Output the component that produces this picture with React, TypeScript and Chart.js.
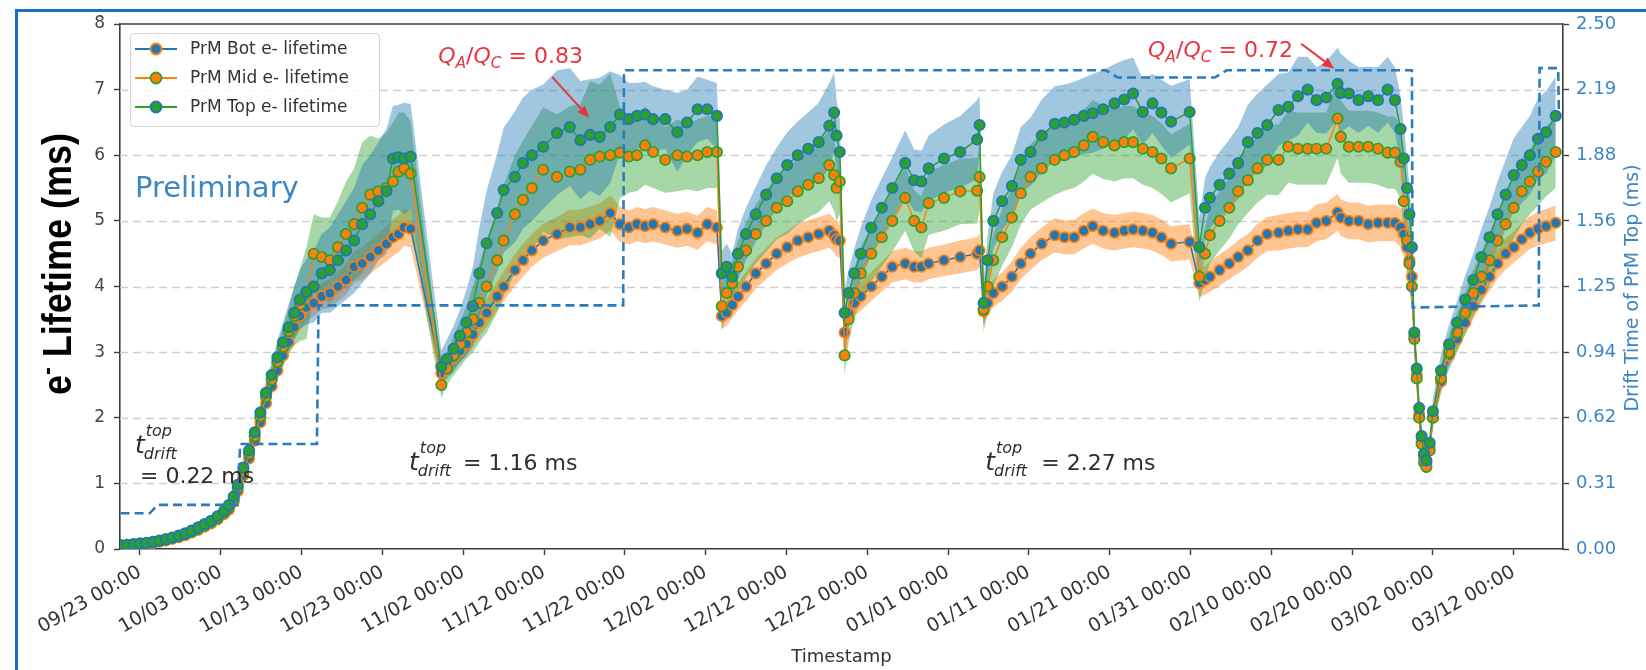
import React, { useEffect, useRef } from 'react';
import { Chart, registerables } from 'chart.js';

Chart.register(...registerables);

// ---- measurement times (days after 09/23 00:00) ----
const days = [
  -2.4, -1.6, -0.8, 0.0, 0.8, 1.6, 2.4, 3.2, 4.0, 4.8, 5.6, 6.4, 7.2, 8.0, 8.8, 9.6, 10.4, 11.0, 11.6, 12.1,
  12.8, 13.5, 14.2, 14.9, 15.6, 16.3, 17.0, 17.7,
  18.4, 19.1, 19.8, 20.6, 21.5, 22.5, 23.5, 24.5, 25.5, 26.5, 27.5, 28.5, 29.5, 30.5, 31.3, 32.0, 32.7, 33.5,
  37.3, 38.0, 38.8, 39.6, 40.4, 41.2, 42.0, 42.9, 44.2, 45.0, 46.4, 47.4, 48.5, 49.9, 51.6, 53.2, 54.5, 55.7,
  56.9, 58.2, 59.4, 60.5, 61.5, 62.5, 63.5, 65.0, 66.5, 67.7, 69.0, 70.2, 71.4,
  72.0, 72.6, 73.3, 74.0, 75.0, 76.2, 77.5, 78.8, 80.1, 81.4, 82.7, 84.0, 85.3, 85.9, 86.2, 86.6,
  87.2, 87.7, 88.4, 89.2, 90.5, 91.8, 93.1, 94.7, 95.8, 96.7, 97.6, 99.5, 101.5, 103.6, 103.9,
  104.4, 104.9, 105.6, 106.7, 107.9, 109.0, 110.2, 111.6, 113.2, 114.4, 115.6, 116.8, 117.9, 119.2, 120.6,
  121.8, 122.9, 124.1, 125.3, 126.4, 127.6, 129.9,
  131.1, 131.8, 132.4, 133.6, 134.8, 135.9, 137.1, 138.3, 139.5, 140.9, 142.1, 143.3, 144.5, 145.6, 146.8,
  148.2, 148.6, 149.6, 150.8, 152.0, 153.2, 154.4, 155.3,
  156.0, 156.4, 156.8, 157.1, 157.4, 157.7, 158.0, 158.3, 158.6, 158.9, 159.2, 159.6, 160.0, 161.0, 162.0,
  163.0, 164.0, 165.0, 166.0, 167.0, 168.0, 169.0, 170.0, 171.0, 172.0, 173.0, 174.0, 175.2,
];

// ---- electron lifetime (ms) ----
const botLifetime = [
  0.04, 0.045, 0.055, 0.065, 0.075, 0.09, 0.11, 0.13, 0.155, 0.18, 0.21, 0.25, 0.29, 0.34, 0.39, 0.45, 0.53, 0.60, 0.72, 0.88,
  1.12, 1.38, 1.65, 1.93, 2.22, 2.48, 2.72, 2.95,
  3.15, 3.38, 3.55, 3.68, 3.75, 3.85, 3.90, 4.00, 4.10, 4.30, 4.35, 4.45, 4.55, 4.65, 4.75, 4.80, 4.90, 4.88,
  2.68, 2.80, 2.92, 3.02, 3.12, 3.27, 3.45, 3.60, 3.85, 4.00, 4.25, 4.40, 4.55, 4.70, 4.80, 4.90, 4.90, 4.95,
  5.00, 5.12, 4.95, 4.90, 4.95, 4.92, 4.95, 4.90, 4.85, 4.88, 4.82, 4.95, 4.90,
  3.55, 3.60, 3.72, 3.85, 4.00, 4.20, 4.35, 4.50, 4.60, 4.70, 4.75, 4.80, 4.85, 4.78, 4.72, 4.70,
  3.30, 3.60, 3.75, 3.85, 4.00, 4.15, 4.30, 4.35, 4.30, 4.30, 4.35, 4.40, 4.45, 4.50, 4.55,
  3.62, 3.75, 3.90, 4.00, 4.15, 4.35, 4.50, 4.65, 4.78, 4.75, 4.75, 4.85, 4.92, 4.85, 4.82,
  4.85, 4.87, 4.85, 4.82, 4.75, 4.65, 4.68,
  4.05, 4.10, 4.15, 4.25, 4.35, 4.45, 4.55, 4.70, 4.80, 4.82, 4.85, 4.87, 4.87, 4.97, 5.00,
  5.13, 5.05, 5.00, 5.00, 4.95, 4.97, 4.97, 4.97,
  4.90, 4.80, 4.60, 4.40, 4.15, 3.25, 2.65, 2.05, 1.65, 1.40, 1.32, 1.55, 2.00, 2.55, 2.95,
  3.20, 3.45, 3.70, 3.95, 4.15, 4.35, 4.50, 4.60, 4.72, 4.82, 4.88, 4.92, 4.97,
];
const midLifetime = [
  0.05, 0.055, 0.065, 0.075, 0.085, 0.10, 0.12, 0.14, 0.165, 0.195, 0.225, 0.265, 0.31, 0.36, 0.41, 0.47, 0.56, 0.64, 0.76, 0.93,
  1.18, 1.45, 1.72, 2.02, 2.32, 2.58, 2.85, 3.08,
  3.32, 3.55, 3.72, 3.90, 4.50, 4.45, 4.40, 4.60, 4.80, 4.95, 5.20, 5.40, 5.45, 5.50, 5.60, 5.75, 5.80, 5.72,
  2.50, 2.75, 2.95, 3.12, 3.30, 3.50, 3.75, 4.00, 4.40, 4.70, 5.10, 5.32, 5.50, 5.78, 5.67, 5.75, 5.78, 5.93,
  5.98, 6.00, 6.04, 5.98, 6.00, 6.15, 6.05, 5.93, 6.00, 5.98, 6.00, 6.05, 6.05,
  3.70, 3.90, 4.05, 4.30, 4.55, 4.80, 5.00, 5.20, 5.30, 5.45, 5.55, 5.65, 5.85, 5.70, 5.50, 5.60,
  2.95, 3.50, 3.90, 4.20, 4.50, 4.75, 5.00, 5.35, 5.00, 4.90, 5.27, 5.35, 5.45, 5.46, 5.67,
  3.65, 4.00, 4.40, 4.75, 5.05, 5.42, 5.67, 5.80, 5.93, 6.00, 6.05, 6.15, 6.28, 6.20, 6.15,
  6.20, 6.20, 6.10, 6.05, 5.95, 5.80, 5.95,
  4.15, 4.50, 4.78, 5.00, 5.20, 5.45, 5.62, 5.80, 5.93, 5.93, 6.13, 6.10, 6.10, 6.10, 6.10,
  6.56, 6.28, 6.13, 6.13, 6.13, 6.10, 6.04, 6.04,
  5.90, 5.30, 4.70, 4.35, 4.00, 3.20, 2.60, 2.00, 1.60, 1.32, 1.25, 1.50, 2.00, 2.60, 3.00,
  3.30, 3.60, 3.90, 4.15, 4.40, 4.70, 4.95, 5.20, 5.45, 5.60, 5.75, 5.90, 6.05,
];
const topLifetime = [
  0.06, 0.065, 0.075, 0.085, 0.095, 0.11, 0.13, 0.15, 0.175, 0.205, 0.24, 0.28, 0.33, 0.38, 0.43, 0.50, 0.58, 0.67, 0.80, 0.98,
  1.24, 1.50, 1.78, 2.08, 2.38, 2.65, 2.92, 3.15,
  3.38, 3.60, 3.80, 3.92, 4.00, 4.20, 4.25, 4.40, 4.55, 4.70, 4.95, 5.10, 5.30, 5.45, 5.95, 5.97, 5.95, 5.98,
  2.78, 2.90, 3.05, 3.25, 3.45, 3.70, 4.20, 4.66, 5.12, 5.47, 5.67, 5.88, 6.00, 6.13, 6.34, 6.43, 6.23, 6.31,
  6.28, 6.43, 6.62, 6.55, 6.60, 6.62, 6.55, 6.55, 6.35, 6.50, 6.70, 6.70, 6.60,
  4.20, 4.30, 4.15, 4.50, 4.80, 5.10, 5.40, 5.65, 5.85, 6.00, 6.10, 6.20, 6.45, 6.65, 6.30, 6.05,
  3.60, 3.90, 4.20, 4.50, 4.90, 5.20, 5.50, 5.88, 5.62, 5.60, 5.80, 5.95, 6.05, 6.24, 6.46,
  3.75, 4.40, 5.00, 5.30, 5.53, 5.93, 6.05, 6.30, 6.48, 6.50, 6.54, 6.60, 6.64, 6.70, 6.79,
  6.85, 6.94, 6.66, 6.79, 6.65, 6.51, 6.66,
  4.60, 5.20, 5.35, 5.55, 5.72, 5.88, 6.20, 6.34, 6.46, 6.69, 6.74, 6.90, 7.00, 6.84, 6.88,
  7.09, 6.95, 6.94, 6.84, 6.90, 6.84, 7.00, 6.84,
  6.40, 5.95, 5.50, 5.10, 4.60, 3.30, 2.75, 2.15, 1.72, 1.45, 1.35, 1.62, 2.10, 2.72, 3.12,
  3.45, 3.80, 4.10, 4.45, 4.75, 5.10, 5.40, 5.70, 5.85, 6.00, 6.25, 6.35, 6.60,
];

// ---- lifetime uncertainties (ms) ----
const botErr = [
  0.02, 0.02, 0.02, 0.02, 0.02, 0.03, 0.03, 0.03, 0.03, 0.04, 0.04, 0.04, 0.04, 0.05, 0.05, 0.05, 0.06, 0.06, 0.07, 0.08,
  0.10, 0.10, 0.12, 0.12, 0.14, 0.15, 0.16, 0.17,
  0.18, 0.19, 0.20, 0.20, 0.20, 0.20, 0.22, 0.22, 0.23, 0.24, 0.25, 0.25, 0.26, 0.27, 0.28, 0.28, 0.28, 0.28,
  0.15, 0.16, 0.17, 0.18, 0.18, 0.19, 0.20, 0.21, 0.22, 0.23, 0.24, 0.25, 0.25, 0.26, 0.26, 0.27, 0.27, 0.27,
  0.27, 0.27, 0.27, 0.26, 0.26, 0.26, 0.26, 0.26, 0.26, 0.26, 0.26, 0.26, 0.26,
  0.20, 0.20, 0.20, 0.21, 0.22, 0.23, 0.24, 0.25, 0.25, 0.26, 0.26, 0.26, 0.26, 0.26, 0.26, 0.26,
  0.20, 0.20, 0.21, 0.22, 0.22, 0.23, 0.24, 0.24, 0.24, 0.24, 0.24, 0.24, 0.25, 0.25, 0.25,
  0.20, 0.20, 0.21, 0.22, 0.23, 0.24, 0.25, 0.25, 0.26, 0.26, 0.26, 0.27, 0.27, 0.27, 0.27,
  0.27, 0.27, 0.27, 0.27, 0.27, 0.27, 0.27,
  0.22, 0.22, 0.23, 0.24, 0.24, 0.25, 0.25, 0.26, 0.26, 0.27, 0.27, 0.27, 0.27, 0.28, 0.28,
  0.28, 0.28, 0.28, 0.28, 0.28, 0.28, 0.28, 0.28,
  0.30, 0.35, 0.40, 0.45, 0.40, 0.20, 0.16, 0.13, 0.10, 0.09, 0.08, 0.09, 0.12, 0.15, 0.17,
  0.18, 0.19, 0.20, 0.21, 0.22, 0.23, 0.24, 0.24, 0.25, 0.25, 0.26, 0.26, 0.27,
];
const midErr = [
  0.02, 0.02, 0.02, 0.02, 0.02, 0.03, 0.03, 0.03, 0.03, 0.04, 0.04, 0.04, 0.04, 0.05, 0.05, 0.05, 0.06, 0.06, 0.07, 0.08,
  0.10, 0.10, 0.12, 0.15, 0.18, 0.20, 0.25, 0.30,
  0.35, 0.45, 0.55, 0.70, 0.60, 0.60, 0.65, 0.70, 0.80, 0.85, 1.00, 0.90, 0.80, 0.85, 0.90, 0.90, 0.85, 0.80,
  0.20, 0.25, 0.30, 0.35, 0.40, 0.50, 0.60, 0.70, 0.80, 0.85, 0.90, 0.90, 0.95, 0.95, 0.95, 1.00, 1.00, 1.20,
  1.10, 1.25, 0.70, 0.55, 0.55, 0.60, 0.55, 0.50, 0.55, 0.50, 0.55, 0.55, 0.55,
  0.35, 0.35, 0.35, 0.40, 0.42, 0.45, 0.47, 0.48, 0.50, 0.50, 0.50, 0.52, 0.55, 0.55, 0.50, 0.50,
  0.30, 0.35, 0.38, 0.40, 0.42, 0.45, 0.47, 0.50, 0.47, 0.47, 0.48, 0.50, 0.50, 0.50, 0.50,
  0.35, 0.38, 0.40, 0.43, 0.45, 0.48, 0.50, 0.52, 0.53, 0.54, 0.55, 0.55, 0.56, 0.56, 0.55,
  0.55, 0.55, 0.55, 0.55, 0.54, 0.52, 0.53,
  0.38, 0.40, 0.43, 0.45, 0.47, 0.50, 0.50, 0.52, 0.53, 0.54, 0.55, 0.55, 0.55, 0.55, 0.55,
  0.60, 0.56, 0.55, 0.55, 0.55, 0.55, 0.55, 0.55,
  0.55, 0.50, 0.45, 0.40, 0.35, 0.28, 0.22, 0.18, 0.15, 0.12, 0.11, 0.13, 0.17, 0.22, 0.26,
  0.30, 0.32, 0.35, 0.37, 0.40, 0.42, 0.45, 0.47, 0.50, 0.50, 0.52, 0.53, 0.55,
];
const topErr = [
  0.02, 0.02, 0.02, 0.02, 0.02, 0.03, 0.03, 0.03, 0.03, 0.04, 0.04, 0.04, 0.04, 0.05, 0.05, 0.05, 0.06, 0.06, 0.07, 0.08,
  0.10, 0.10, 0.12, 0.15, 0.18, 0.20, 0.25, 0.30,
  0.35, 0.40, 0.45, 0.50, 0.55, 0.60, 0.65, 0.70, 0.75, 0.80, 0.90, 0.90, 0.90, 0.95, 0.80, 0.80, 0.85, 0.80,
  0.25, 0.30, 0.35, 0.40, 0.50, 0.60, 0.70, 0.80, 0.90, 0.95, 1.00, 1.00, 1.00, 0.95, 0.95, 0.90, 0.90, 0.85,
  0.90, 0.85, 0.60, 0.55, 0.50, 0.50, 0.50, 0.45, 0.60, 0.50, 0.50, 0.45, 0.50,
  0.35, 0.35, 0.35, 0.38, 0.40, 0.42, 0.45, 0.47, 0.50, 0.52, 0.55, 0.60, 0.65, 0.60, 0.55, 0.50,
  0.35, 0.35, 0.38, 0.40, 0.42, 0.45, 0.47, 0.50, 0.47, 0.47, 0.50, 0.52, 0.55, 0.60, 0.45,
  0.35, 0.38, 0.42, 0.45, 0.47, 0.50, 0.52, 0.55, 0.57, 0.58, 0.58, 0.58, 0.60, 0.60, 0.60,
  0.60, 0.55, 0.50, 0.45, 0.50, 0.55, 0.50,
  0.45, 0.45, 0.47, 0.50, 0.52, 0.55, 0.57, 0.60, 0.62, 0.55, 0.52, 0.60, 0.50, 0.50, 0.55,
  0.55, 0.60, 0.50, 0.50, 0.45, 0.50, 0.50, 0.50,
  0.50, 0.50, 0.45, 0.45, 0.40, 0.30, 0.25, 0.20, 0.16, 0.13, 0.12, 0.14, 0.19, 0.25, 0.30,
  0.33, 0.37, 0.40, 0.43, 0.46, 0.50, 0.53, 0.56, 0.58, 0.60, 0.62, 0.63, 0.60,
];

// ---- drift time of the top purity monitor (ms) ----
const driftDays = [-2.4, 1.2, 2.2, 12.1, 12.4, 21.9, 22.1, 59.8, 59.9, 119.5, 121.0, 133.0, 134.5, 157.4, 157.5, 173.1, 173.2, 175.5, 175.6];
const driftMs = [0.17, 0.17, 0.21, 0.21, 0.50, 0.50, 1.16, 1.16, 2.28, 2.28, 2.245, 2.245, 2.28, 2.28, 1.15, 1.16, 2.29, 2.29, 2.05];

// ---- axes ----
const X_MIN = -2.47;
const X_MAX = 176.1;
const xTickDays = [0, 10, 20, 30, 40, 50, 60, 70, 80, 90, 100, 110, 120, 130, 140, 150, 160, 170];
const xTickLabels = [
  '09/23 00:00', '10/03 00:00', '10/13 00:00', '10/23 00:00', '11/02 00:00', '11/12 00:00',
  '11/22 00:00', '12/02 00:00', '12/12 00:00', '12/22 00:00', '01/01 00:00', '01/11 00:00',
  '01/21 00:00', '01/31 00:00', '02/10 00:00', '02/20 00:00', '03/02 00:00', '03/12 00:00',
];
const lifetimeTicks = [0, 1, 2, 3, 4, 5, 6, 7, 8];
const driftTicks = [0, 0.3125, 0.625, 0.9375, 1.25, 1.5625, 1.875, 2.1875, 2.5];
const driftTickLabels = ['0.00', '0.31', '0.62', '0.94', '1.25', '1.56', '1.88', '2.19', '2.50'];

const seriesNames = ['PrM Bot e- lifetime', 'PrM Mid e- lifetime', 'PrM Top e- lifetime'];

const FONT = 'DejaVu Sans';
const BLUE = '#1f77b4';
const ORANGE = '#ff7f0e';
const GREEN = '#2ca02c';
const SPINE = '#3c3c3c';
const NOTE_RED = '#e8343f';
const NOTE_BLUE = '#3c86c4';
const W = 1646;
const H = 670;

const pts = (xs: number[], ys: number[]) => xs.map((x, i) => ({ x, y: ys[i] }));
const shifted = (vals: number[], errs: number[], sign: number) =>
  days.map((x, i) => ({ x, y: vals[i] + sign * errs[i] }));

const legendRows = [
  { label: seriesNames[0], line: BLUE, face: BLUE, edge: ORANGE },
  { label: seriesNames[1], line: ORANGE, face: ORANGE, edge: GREEN },
  { label: seriesNames[2], line: GREEN, face: GREEN, edge: BLUE },
];

type Piece = { t: string; font: string; dy?: number };

function drawPieces(ctx: CanvasRenderingContext2D, pieces: Piece[], x: number, y: number) {
  let cx = x;
  for (const p of pieces) {
    ctx.font = p.font;
    ctx.fillText(p.t, cx, y + (p.dy ?? 0));
    cx += ctx.measureText(p.t).width;
  }
  return cx - x;
}

function drawRatio(ctx: CanvasRenderingContext2D, x: number, y: number, value: string) {
  const it = `italic 22px "${FONT}"`;
  const sub = `italic 15.5px "${FONT}"`;
  drawPieces(ctx, [
    { t: 'Q', font: it },
    { t: 'A', font: sub, dy: 5 },
    { t: '/', font: `22px "${FONT}"` },
    { t: 'Q', font: it },
    { t: 'C', font: sub, dy: 5 },
    { t: ' = ' + value, font: `22px "${FONT}"` },
  ], x, y);
}

function drawDriftLabel(ctx: CanvasRenderingContext2D, x: number, y: number) {
  ctx.font = `italic 25px "${FONT}"`;
  ctx.fillText('t', x, y);
  const cx = x + ctx.measureText('t').width + 1;
  ctx.font = `italic 16px "${FONT}"`;
  ctx.fillText('top', cx, y - 17);
  ctx.fillText('drift', cx - 2, y + 6);
}

function drawArrow(ctx: CanvasRenderingContext2D, x1: number, y1: number, x2: number, y2: number) {
  const a = Math.atan2(y2 - y1, x2 - x1);
  const hl = 12;
  const hw = 5;
  const bx = x2 - hl * Math.cos(a);
  const by = y2 - hl * Math.sin(a);
  ctx.beginPath();
  ctx.moveTo(x1, y1);
  ctx.lineTo(bx, by);
  ctx.stroke();
  ctx.beginPath();
  ctx.moveTo(x2, y2);
  ctx.lineTo(bx + hw * Math.sin(a), by - hw * Math.cos(a));
  ctx.lineTo(bx - hw * Math.sin(a), by + hw * Math.cos(a));
  ctx.closePath();
  ctx.fill();
}

const decorations = {
  id: 'decorations',
  beforeDatasetsDraw(chart: any) {
    const { ctx, chartArea } = chart;
    const yL = chart.scales.yL;
    ctx.save();
    ctx.strokeStyle = '#cfcfcf';
    ctx.lineWidth = 1.4;
    ctx.setLineDash([8, 5]);
    for (const v of lifetimeTicks.slice(1, -1)) {
      const y = Math.round(yL.getPixelForValue(v)) + 0.5;
      ctx.beginPath();
      ctx.moveTo(chartArea.left, y);
      ctx.lineTo(chartArea.right, y);
      ctx.stroke();
    }
    ctx.restore();
  },
  afterDraw(chart: any) {
    const { ctx, chartArea } = chart;
    const xs = chart.scales.x;
    const yL = chart.scales.yL;
    const px = (d: number) => xs.getPixelForValue(d);
    const py = (v: number) => yL.getPixelForValue(v);
    ctx.save();

    // top spine
    ctx.strokeStyle = SPINE;
    ctx.lineWidth = 1.6;
    ctx.beginPath();
    ctx.moveTo(chartArea.left, chartArea.top);
    ctx.lineTo(chartArea.right, chartArea.top);
    ctx.stroke();

    // legend
    ctx.fillStyle = 'rgba(255,255,255,0.85)';
    ctx.strokeStyle = '#d6d6d6';
    ctx.lineWidth = 1.2;
    ctx.beginPath();
    ctx.roundRect(130.5, 33.5, 249, 93, 4);
    ctx.fill();
    ctx.stroke();
    legendRows.forEach((row, i) => {
      const y = 49 + i * 29;
      ctx.strokeStyle = row.line;
      ctx.lineWidth = 2;
      ctx.beginPath();
      ctx.moveTo(135, y);
      ctx.lineTo(177, y);
      ctx.stroke();
      ctx.beginPath();
      ctx.arc(156, y, 5.5, 0, Math.PI * 2);
      ctx.fillStyle = row.face;
      ctx.fill();
      ctx.lineWidth = 1.8;
      ctx.strokeStyle = row.edge;
      ctx.stroke();
      ctx.fillStyle = '#333';
      ctx.font = `17px "${FONT}"`;
      ctx.textBaseline = 'middle';
      ctx.fillText(row.label, 190, y + 1);
    });
    ctx.textBaseline = 'alphabetic';

    // "Preliminary"
    ctx.fillStyle = NOTE_BLUE;
    ctx.font = `29px "${FONT}"`;
    ctx.fillText('Preliminary', px(-0.62), py(5.37));

    // charge ratio notes
    ctx.fillStyle = NOTE_RED;
    ctx.strokeStyle = NOTE_RED;
    ctx.lineWidth = 2;
    drawRatio(ctx, px(36.9), py(7.41), '0.83');
    drawArrow(ctx, px(51.0), py(7.195), px(55.6), py(6.57));
    drawRatio(ctx, px(124.75), py(7.5), '0.72');
    drawArrow(ctx, px(143.7), py(7.7), px(147.8), py(7.32));

    // drift time notes
    ctx.fillStyle = '#2e2e2e';
    drawDriftLabel(ctx, px(-0.62), py(1.46));
    ctx.font = `22px "${FONT}"`;
    ctx.fillText('= 0.22 ms', px(0), py(1.006));
    drawDriftLabel(ctx, px(33.3), py(1.204));
    ctx.font = `22px "${FONT}"`;
    ctx.fillText('= 1.16 ms', px(33.3) + 54, py(1.204));
    drawDriftLabel(ctx, px(104.6), py(1.204));
    ctx.font = `22px "${FONT}"`;
    ctx.fillText('= 2.27 ms', px(104.6) + 56, py(1.204));

    // left axis title
    ctx.save();
    ctx.translate(71, 264);
    ctx.rotate(-Math.PI / 2);
    const big = 'bold 40px "Liberation Sans"';
    const sup = 'bold 26px "Liberation Sans"';
    ctx.font = big;
    const wE = ctx.measureText('e').width;
    const wRest = ctx.measureText(' Lifetime (ms)').width;
    ctx.font = sup;
    const wS = ctx.measureText('-').width;
    const total = wE + wS + wRest;
    ctx.scale(262 / total, 1);
    ctx.fillStyle = '#000';
    let tx = -total / 2;
    ctx.font = big;
    ctx.fillText('e', tx, 0);
    tx += wE;
    ctx.font = sup;
    ctx.fillText('-', tx, -16);
    tx += wS;
    ctx.font = big;
    ctx.fillText(' Lifetime (ms)', tx, 0);
    ctx.restore();

    // right axis title
    ctx.save();
    ctx.translate(1638, 288);
    ctx.rotate(-Math.PI / 2);
    ctx.textAlign = 'center';
    ctx.fillStyle = NOTE_BLUE;
    ctx.font = `19px "${FONT}"`;
    ctx.fillText('Drift Time of PrM Top (ms)', 0, 0);
    ctx.restore();

    // x axis title
    ctx.textAlign = 'center';
    ctx.fillStyle = '#333';
    ctx.font = `18px "${FONT}"`;
    ctx.fillText('Timestamp', (chartArea.left + chartArea.right) / 2, 662);
    ctx.textAlign = 'left';

    // slide frame
    ctx.strokeStyle = '#1a6ec4';
    ctx.lineWidth = 3;
    ctx.beginPath();
    ctx.moveTo(16.5, H);
    ctx.lineTo(16.5, 10.5);
    ctx.lineTo(W, 10.5);
    ctx.stroke();

    ctx.restore();
  },
};

export default function App() {
  const canvasRef = useRef<HTMLCanvasElement | null>(null);

  useEffect(() => {
    if (!canvasRef.current) return;
    Chart.defaults.font.family = FONT;

    const lineSeries = (label: string, vals: number[], line: string, face: string, edge: string, order: number) => ({
      label,
      data: pts(days, vals),
      yAxisID: 'yL',
      borderColor: line,
      borderWidth: 1.5,
      backgroundColor: face,
      pointBackgroundColor: face,
      pointBorderColor: edge,
      pointBorderWidth: 1.7,
      pointRadius: 5.2,
      pointHoverRadius: 5.2,
      tension: 0,
      fill: false,
      order,
    });
    const bandEdge = (vals: number[], errs: number[], sign: number, color: string | null, order: number) => ({
      label: '',
      data: shifted(vals, errs, sign),
      yAxisID: 'yL',
      borderWidth: 0,
      borderColor: 'rgba(0,0,0,0)',
      backgroundColor: color ?? 'rgba(0,0,0,0)',
      pointRadius: 0,
      pointHoverRadius: 0,
      tension: 0,
      fill: color ? '-1' : false,
      order,
    });

    const chart = new Chart(canvasRef.current, {
      type: 'line',
      data: {
        datasets: [
          bandEdge(botLifetime, botErr, -1, null, 30),
          bandEdge(botLifetime, botErr, 1, 'rgba(255,127,14,0.45)', 30),
          bandEdge(midLifetime, midErr, -1, null, 20),
          bandEdge(midLifetime, midErr, 1, 'rgba(44,160,44,0.42)', 20),
          bandEdge(topLifetime, topErr, -1, null, 10),
          bandEdge(topLifetime, topErr, 1, 'rgba(31,119,180,0.42)', 10),
          lineSeries(seriesNames[0], botLifetime, BLUE, BLUE, ORANGE, 5),
          lineSeries(seriesNames[1], midLifetime, ORANGE, ORANGE, GREEN, 4),
          lineSeries(seriesNames[2], topLifetime, GREEN, GREEN, BLUE, 3),
          {
            label: 'drift',
            data: pts(driftDays, driftMs),
            yAxisID: 'yR',
            borderColor: '#2c7bbb',
            borderWidth: 2.6,
            borderDash: [9, 5],
            pointRadius: 0,
            pointHoverRadius: 0,
            tension: 0,
            fill: false,
            order: 1,
          },
        ] as any,
      },
      options: {
        animation: false,
        responsive: false,
        devicePixelRatio: 1,
        events: [],
        layout: { padding: { top: 24, left: 0, right: 0, bottom: 0 } },
        plugins: { legend: { display: false }, tooltip: { enabled: false } },
        scales: {
          x: {
            type: 'linear',
            min: X_MIN,
            max: X_MAX,
            afterBuildTicks: (s: any) => {
              s.ticks = xTickDays.map((v) => ({ value: v }));
            },
            afterFit: (s: any) => {
              s.height = H - 549;
            },
            ticks: {
              autoSkip: false,
              maxRotation: 30,
              minRotation: 30,
              padding: 6,
              color: '#333',
              font: { family: FONT, size: 19 },
              callback: (_v: any, i: number) => xTickLabels[i],
            },
            grid: { drawOnChartArea: false, drawTicks: true, tickLength: 6, tickColor: SPINE, tickWidth: 1.4 },
            border: { display: true, color: SPINE, width: 1.6 },
          },
          yL: {
            type: 'linear',
            position: 'left',
            min: 0,
            max: 8,
            afterBuildTicks: (s: any) => {
              s.ticks = lifetimeTicks.map((v) => ({ value: v }));
            },
            afterFit: (s: any) => {
              s.width = 120;
            },
            ticks: {
              padding: 9,
              color: '#444',
              font: { family: FONT, size: 17 },
              callback: (v: any) => String(v),
            },
            grid: { drawOnChartArea: false, drawTicks: true, tickLength: 6, tickColor: SPINE, tickWidth: 1.4 },
            border: { display: true, color: SPINE, width: 1.6 },
          },
          yR: {
            type: 'linear',
            position: 'right',
            min: 0,
            max: 2.5,
            afterBuildTicks: (s: any) => {
              s.ticks = driftTicks.map((v) => ({ value: v }));
            },
            afterFit: (s: any) => {
              s.width = W - 1563;
            },
            ticks: {
              padding: 7,
              color: NOTE_BLUE,
              font: { family: FONT, size: 18 },
              callback: (_v: any, i: number) => driftTickLabels[i],
            },
            grid: { drawOnChartArea: false, drawTicks: true, tickLength: 6, tickColor: SPINE, tickWidth: 1.4 },
            border: { display: true, color: SPINE, width: 1.6 },
          },
        },
      } as any,
      plugins: [decorations],
    });

    return () => chart.destroy();
  }, []);

  return (
    <div style={{ position: 'fixed', left: 0, top: 0, width: W, height: H, background: '#fff' }}>
      <canvas ref={canvasRef} width={W} height={H} style={{ width: W, height: H, display: 'block' }} />
    </div>
  );
}
